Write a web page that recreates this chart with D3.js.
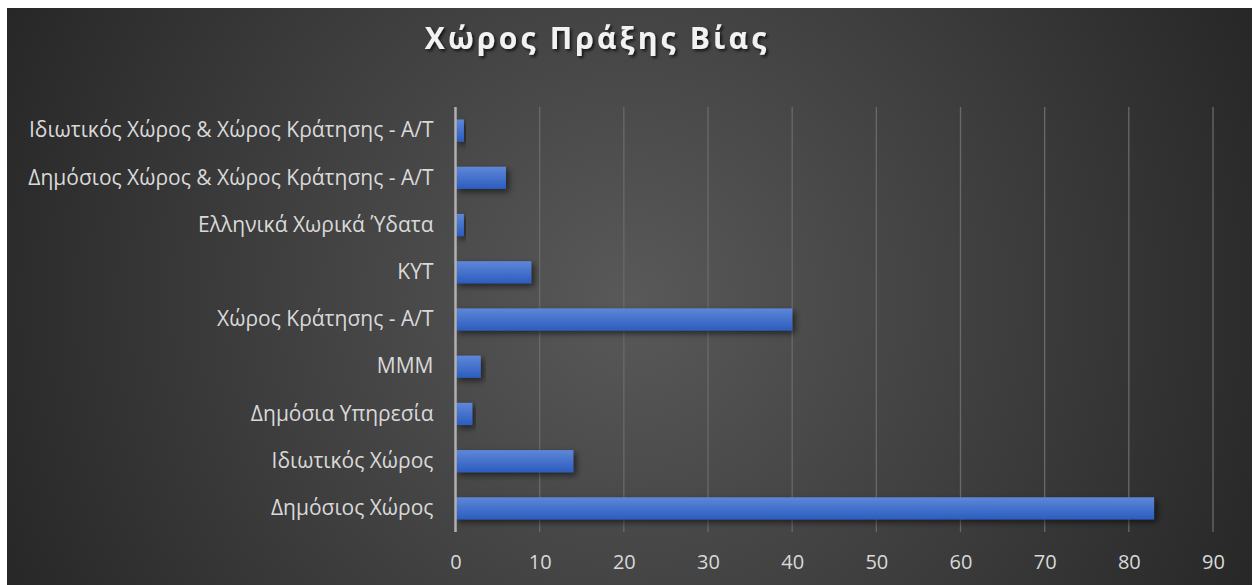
<!DOCTYPE html>
<html>
<head>
<meta charset="utf-8">
<script src="https://cdn.jsdelivr.net/npm/d3@7"></script>
<style>
html,body{margin:0;padding:0;background:#fff;}
svg{display:block;}
</style>
</head>
<body>
<svg id="chart" width="1253" height="585"></svg>
<script>
const categories = [
  "Ιδιωτικός Χώρος & Χώρος Κράτησης - Α/Τ",
  "Δημόσιος Χώρος & Χώρος Κράτησης - Α/Τ",
  "Ελληνικά Χωρικά Ύδατα",
  "ΚΥΤ",
  "Χώρος Κράτησης - Α/Τ",
  "ΜΜΜ",
  "Δημόσια Υπηρεσία",
  "Ιδιωτικός Χώρος",
  "Δημόσιος Χώρος"
];
const values = [1, 6, 1, 9, 40, 3, 2, 14, 83];
const xTicks = [0, 10, 20, 30, 40, 50, 60, 70, 80, 90];
const title = "Χώρος Πράξης Βίας";

const svg = d3.select("#chart");
const defs = svg.append("defs");

const bg = defs.append("radialGradient").attr("id","bg")
  .attr("gradientUnits","userSpaceOnUse")
  .attr("cx",630).attr("cy",300).attr("r",700);
bg.append("stop").attr("offset","0").attr("stop-color","#595959");
bg.append("stop").attr("offset","1").attr("stop-color","#262626");

const barG = defs.append("linearGradient").attr("id","barg")
  .attr("x1",0).attr("y1",0).attr("x2",0).attr("y2",1);
barG.append("stop").attr("offset","0").attr("stop-color","#5e87d8");
barG.append("stop").attr("offset","1").attr("stop-color","#2c5dbf");

const sh = defs.append("filter").attr("id","sh").attr("x","-10%").attr("y","-50%").attr("width","130%").attr("height","250%");
sh.append("feDropShadow").attr("dx",3).attr("dy",3).attr("stdDeviation",3)
  .attr("flood-color","#000").attr("flood-opacity",0.55);

const tsh = defs.append("filter").attr("id","tsh");
tsh.append("feDropShadow").attr("dx",2).attr("dy",2).attr("stdDeviation",1.5)
  .attr("flood-color","#000").attr("flood-opacity",0.7);

svg.append("rect").attr("x",7).attr("y",8).attr("width",1245).attr("height",577).attr("fill","url(#bg)");

const x = d3.scaleLinear().domain([0, 90]).range([455.5, 1213]);
const y = d3.scaleBand().domain(categories).range([107, 532]).paddingInner(0.53).paddingOuter(0.265);

// gridlines
svg.append("g").selectAll("line").data(xTicks.slice(1)).join("line")
  .attr("x1", d => x(d)).attr("x2", d => x(d))
  .attr("y1", 107).attr("y2", 532)
  .attr("stroke", "#6a6a6a").attr("stroke-width", 1.3);

// bars
svg.append("g").selectAll("rect").data(categories).join("rect")
  .attr("x", x(0))
  .attr("y", d => y(d))
  .attr("width", (d,i) => x(values[i]) - x(0))
  .attr("height", y.bandwidth())
  .attr("fill", "url(#barg)")
  .attr("filter", "url(#sh)");

// y axis line
svg.append("line").attr("x1", x(0)).attr("x2", x(0)).attr("y1",107).attr("y2",532)
  .attr("stroke","#b0b0b0").attr("stroke-width",2.5);

// x axis ticks
const xAxis = d3.axisBottom(x).tickValues(xTicks).tickSize(0).tickPadding(0);
const gx = svg.append("g").attr("transform","translate(0,532)").call(xAxis);
gx.select(".domain").remove();
gx.selectAll("text").attr("dy", null).attr("y", 37)
  .attr("fill","#d9d9d9").style("font-family","'Open Sans', sans-serif").style("font-size","20px");

// y axis labels
const yAxis = d3.axisLeft(y).tickSize(0).tickPadding(22);
const gy = svg.append("g").attr("transform",`translate(${x(0)},0)`).call(yAxis);
gy.select(".domain").remove();
gy.selectAll("text").attr("fill","#d9d9d9")
  .style("font-family","'Open Sans', sans-serif").style("font-size","21px");

// title
svg.append("text").attr("x", 597).attr("y", 49).attr("text-anchor","middle")
  .attr("fill","#f2f2f2").attr("filter","url(#tsh)")
  .style("font-family","'Open Sans', sans-serif").style("font-weight","bold")
  .style("font-size","30px").style("letter-spacing","3.2px")
  .text(title);
</script>
</body>
</html>
